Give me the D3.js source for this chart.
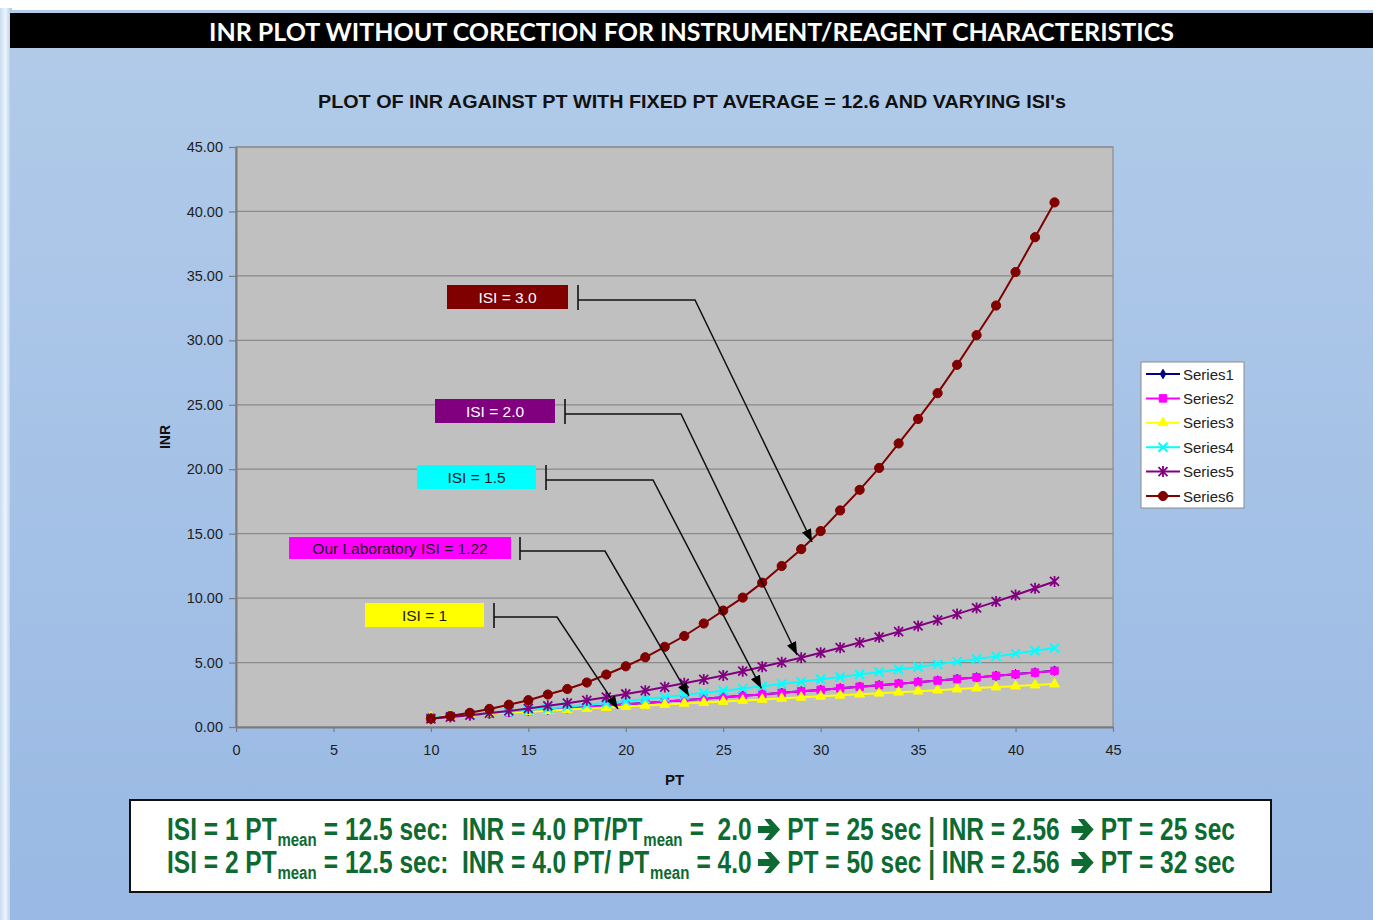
<!DOCTYPE html>
<html>
<head>
<meta charset="utf-8">
<script src="https://cdn.jsdelivr.net/npm/d3@7"></script>
<style>
  html, body { margin: 0; padding: 0; background: #ffffff; }
  svg { display: block; }
</style>
</head>
<body>
<svg id="chart" width="1375" height="920"></svg>
<script>
// ---- data -------------------------------------------------------------
const ptValues = [10, 11, 12, 13, 14, 15, 16, 17, 18, 19, 20, 21, 22, 23, 24, 25, 26,
                  27, 28, 29, 30, 31, 32, 33, 34, 35, 36, 37, 38, 39, 40, 41, 42];

const series1 = [0.75, 0.85, 0.94, 1.04, 1.14, 1.24, 1.34, 1.44, 1.55, 1.65, 1.76, 1.87, 1.97, 2.08, 2.20, 2.31, 2.42,
                 2.53, 2.65, 2.77, 2.88, 3.00, 3.12, 3.24, 3.36, 3.48, 3.60, 3.72, 3.85, 3.97, 4.10, 4.23, 4.37];
const series2 = [0.75, 0.85, 0.94, 1.04, 1.14, 1.24, 1.34, 1.44, 1.55, 1.65, 1.76, 1.87, 1.97, 2.08, 2.20, 2.31, 2.42,
                 2.53, 2.65, 2.77, 2.88, 3.00, 3.12, 3.24, 3.36, 3.48, 3.60, 3.72, 3.85, 3.97, 4.09, 4.22, 4.35];
const series3 = [0.79, 0.87, 0.95, 1.03, 1.11, 1.19, 1.27, 1.35, 1.43, 1.51, 1.59, 1.67, 1.75, 1.83, 1.90, 1.98, 2.06,
                 2.14, 2.22, 2.30, 2.38, 2.46, 2.54, 2.62, 2.70, 2.78, 2.86, 2.94, 3.02, 3.10, 3.17, 3.25, 3.33];
const series4 = [0.71, 0.82, 0.94, 1.05, 1.18, 1.31, 1.44, 1.58, 1.72, 1.86, 2.01, 2.17, 2.32, 2.48, 2.65, 2.81, 2.98,
                 3.16, 3.33, 3.51, 3.70, 3.88, 4.07, 4.27, 4.46, 4.66, 4.86, 5.07, 5.27, 5.48, 5.69, 5.91, 6.13];
const series5 = [0.64, 0.77, 0.92, 1.08, 1.25, 1.44, 1.64, 1.85, 2.07, 2.31, 2.56, 2.82, 3.10, 3.39, 3.69, 4.00, 4.33,
                 4.67, 5.02, 5.38, 5.76, 6.15, 6.55, 6.97, 7.40, 7.84, 8.29, 8.76, 9.24, 9.73, 10.24, 10.76, 11.29];
const series6 = [0.65, 0.85, 1.10, 1.40, 1.73, 2.08, 2.52, 2.95, 3.45, 4.07, 4.71, 5.41, 6.22, 7.06, 8.03, 9.03, 10.04,
                 11.20, 12.49, 13.80, 15.20, 16.80, 18.40, 20.10, 22.00, 23.90, 25.90, 28.10, 30.40, 32.70, 35.30, 38.00, 40.70];

const seriesNames = ["Series1", "Series2", "Series3", "Series4", "Series5", "Series6"];
const xTicks = [0, 5, 10, 15, 20, 25, 30, 35, 40, 45];
const yTicks = [0, 5, 10, 15, 20, 25, 30, 35, 40, 45];

// callout labels and the (PT, INR) point each arrow points at
const calloutTexts = ["ISI = 3.0", "ISI = 2.0", "ISI = 1.5", "Our Laboratory ISI = 1.22", "ISI = 1"];
const calloutTargetPT = [29.56, 28.79, 26.96, 23.24, 19.60];
const calloutTargetINR = [14.35, 5.59, 2.99, 2.41, 1.40];

// ---- styles -----------------------------------------------------------
const seriesColors = ["#000080", "#ff00ff", "#ffff00", "#00ffff", "#800080", "#800000"];
const seriesMarkers = ["diamond", "square", "triangle", "cross", "star", "circle"];
const allSeries = [series1, series2, series3, series4, series5, series6];

const SANS = '"Liberation Sans", Arial, "Helvetica Neue", sans-serif';

const svg = d3.select("#chart");
const defs = svg.append("defs");

const panelGrad = defs.append("linearGradient").attr("id", "panelFill")
  .attr("x1", 0).attr("y1", 0).attr("x2", 0).attr("y2", 1);
panelGrad.append("stop").attr("offset", 0).attr("stop-color", "#b2cbe9");
panelGrad.append("stop").attr("offset", 1).attr("stop-color", "#99b9e4");

const bevelGrad = defs.append("linearGradient").attr("id", "bevelFill")
  .attr("x1", 0).attr("y1", 0).attr("x2", 1).attr("y2", 0);
bevelGrad.append("stop").attr("offset", 0).attr("stop-color", "#c9dcf2");
bevelGrad.append("stop").attr("offset", 0.45).attr("stop-color", "#eef5fc");
bevelGrad.append("stop").attr("offset", 1).attr("stop-color", "#a9c4e8");

defs.append("marker").attr("id", "arrowHead")
  .attr("markerUnits", "userSpaceOnUse")
  .attr("markerWidth", 14).attr("markerHeight", 10)
  .attr("refX", 13).attr("refY", 5)
  .attr("orient", "auto")
  .append("path").attr("d", "M0,0 L13,5 L0,10 Z").attr("fill", "#000");

// ---- page background --------------------------------------------------
svg.append("rect").attr("x", 0).attr("y", 0).attr("width", 1375).attr("height", 920).attr("fill", "#ffffff");
svg.append("rect").attr("x", 0).attr("y", 8).attr("width", 12).attr("height", 912).attr("fill", "url(#bevelFill)");
svg.append("rect").attr("x", 10).attr("y", 10).attr("width", 1363).attr("height", 910).attr("fill", "url(#panelFill)");

// title bar
svg.append("rect").attr("x", 10).attr("y", 13).attr("width", 1363).attr("height", 35).attr("fill", "#000");
svg.append("text")
  .attr("x", 209).attr("y", 41)
  .attr("textLength", 965).attr("lengthAdjust", "spacingAndGlyphs")
  .attr("font-family", 'Lato, "Open Sans", "Liberation Sans", sans-serif')
  .attr("font-weight", "bold").attr("font-size", 24).attr("fill", "#fff")
  .text("INR PLOT WITHOUT CORECTION FOR INSTRUMENT/REAGENT CHARACTERISTICS");

// chart subtitle
svg.append("text")
  .attr("x", 318).attr("y", 108)
  .attr("textLength", 748).attr("lengthAdjust", "spacingAndGlyphs")
  .attr("font-family", SANS).attr("font-weight", "bold").attr("font-size", 18).attr("fill", "#111")
  .text("PLOT OF INR AGAINST PT WITH FIXED PT AVERAGE = 12.6 AND VARYING ISI's");

// ---- scales -----------------------------------------------------------
const x = d3.scaleLinear().domain([0, 45]).range([236, 1113]);
const y = d3.scaleLinear().domain([0, 45]).range([727, 147]);

// plot area
svg.append("rect")
  .attr("x", x(0)).attr("y", y(45))
  .attr("width", x(45) - x(0)).attr("height", y(0) - y(45))
  .attr("fill", "#c0c0c0").attr("stroke", "#8a8a8a").attr("stroke-width", 1.2);

svg.append("g").selectAll("line").data(yTicks.filter(d => d > 0)).join("line")
  .attr("x1", x(0)).attr("x2", x(45))
  .attr("y1", d => y(d)).attr("y2", d => y(d))
  .attr("stroke", "#8a8a8a").attr("stroke-width", 1.2);

// axes
const styleAxis = g => {
  g.attr("font-family", SANS);
  g.select(".domain").attr("stroke", "#7c7c7c").attr("stroke-width", 2);
  g.selectAll(".tick line").attr("stroke", "#7c7c7c").attr("stroke-width", 1.2);
  g.selectAll(".tick text").attr("font-size", 14.5).attr("fill", "#1e1e1e");
};

svg.append("g")
  .attr("transform", `translate(${x(0)},0)`)
  .call(d3.axisLeft(y).tickValues(yTicks).tickFormat(d3.format(".2f")).tickSize(7).tickSizeOuter(0).tickPadding(6))
  .call(styleAxis);

svg.append("g")
  .attr("transform", `translate(0,${y(0)})`)
  .call(d3.axisBottom(x).tickValues(xTicks).tickFormat(d3.format("d")).tickSize(5).tickSizeOuter(0).tickPadding(13))
  .call(styleAxis);

svg.append("text")
  .attr("transform", `translate(170,${(y(0) + y(45)) / 2}) rotate(-90)`)
  .attr("text-anchor", "middle")
  .attr("font-family", SANS).attr("font-weight", "bold").attr("font-size", 14).attr("fill", "#111")
  .text("INR");

svg.append("text")
  .attr("x", (x(0) + x(45)) / 2).attr("y", 785)
  .attr("text-anchor", "middle")
  .attr("font-family", SANS).attr("font-weight", "bold").attr("font-size", 15).attr("fill", "#111")
  .text("PT");

// ---- markers ----------------------------------------------------------
function drawMarker(g, kind, color) {
  switch (kind) {
    case "diamond":
      g.append("path").attr("d", d3.symbol(d3.symbolDiamond, 26)()).attr("fill", color).attr("stroke", color);
      break;
    case "square":
      g.append("path").attr("d", d3.symbol(d3.symbolSquare, 56)()).attr("fill", color).attr("stroke", color);
      break;
    case "triangle":
      g.append("path").attr("d", d3.symbol(d3.symbolTriangle, 42)()).attr("fill", color).attr("stroke", color);
      break;
    case "cross":
      g.append("path").attr("d", "M-4.5,-4.5L4.5,4.5M-4.5,4.5L4.5,-4.5")
        .attr("stroke", color).attr("stroke-width", 2).attr("fill", "none");
      break;
    case "star":
      g.append("path").attr("d", "M-4.5,-4.5L4.5,4.5M-4.5,4.5L4.5,-4.5M0,-5.5L0,5.5")
        .attr("stroke", color).attr("stroke-width", 1.8).attr("fill", "none");
      break;
    case "circle":
      g.append("circle").attr("r", 4.6).attr("fill", color).attr("stroke", color);
      break;
  }
}

// ---- series -----------------------------------------------------------
const line = d3.line().x((d, i) => x(ptValues[i])).y(d => y(d));

allSeries.forEach((values, s) => {
  const g = svg.append("g");
  g.append("path").attr("d", line(values))
    .attr("fill", "none").attr("stroke", seriesColors[s]).attr("stroke-width", 2);
  values.forEach((v, i) => {
    const m = g.append("g").attr("transform", `translate(${x(ptValues[i])},${y(v)})`);
    drawMarker(m, seriesMarkers[s], seriesColors[s]);
  });
});

// ---- callouts ---------------------------------------------------------
const calloutBoxes = [
  { x0: 447, x1: 568, y0: 285, y1: 309, tickX: 578, lineY: 300, elbowX: 695, fill: "#800000", ink: "#ffffff" },
  { x0: 435, x1: 555, y0: 399, y1: 423, tickX: 565, lineY: 414, elbowX: 681, fill: "#800080", ink: "#ffffff" },
  { x0: 417, x1: 536, y0: 465, y1: 489, tickX: 546, lineY: 480, elbowX: 653, fill: "#00ffff", ink: "#1a1a1a" },
  { x0: 289, x1: 511, y0: 537, y1: 559, tickX: 520, lineY: 551, elbowX: 605, fill: "#ff00ff", ink: "#1a1a1a" },
  { x0: 365, x1: 484, y0: 603, y1: 627, tickX: 494, lineY: 617, elbowX: 557, fill: "#ffff00", ink: "#1a1a1a" }
];

calloutTexts.forEach((label, i) => {
  const b = calloutBoxes[i];
  const g = svg.append("g");
  g.append("rect").attr("x", b.x0).attr("y", b.y0)
    .attr("width", b.x1 - b.x0).attr("height", b.y1 - b.y0).attr("fill", b.fill);
  g.append("text")
    .attr("x", (b.x0 + b.x1) / 2).attr("y", (b.y0 + b.y1) / 2 + 5.5)
    .attr("text-anchor", "middle")
    .attr("font-family", SANS).attr("font-size", 15.5).attr("fill", b.ink)
    .text(label);
  g.append("line").attr("x1", b.tickX).attr("x2", b.tickX)
    .attr("y1", b.y0).attr("y2", b.y1 + 1)
    .attr("stroke", "#111").attr("stroke-width", 1.6);
  const tipX = x(calloutTargetPT[i]);
  const tipY = y(calloutTargetINR[i]);
  g.append("path")
    .attr("d", `M${b.tickX},${b.lineY}L${b.elbowX},${b.lineY}L${tipX},${tipY}`)
    .attr("fill", "none").attr("stroke", "#111").attr("stroke-width", 1.5)
    .attr("marker-end", "url(#arrowHead)");
});

// ---- legend -----------------------------------------------------------
const legend = svg.append("g");
legend.append("rect").attr("x", 1141).attr("y", 362).attr("width", 103).attr("height", 146)
  .attr("fill", "#ffffff").attr("stroke", "#8c8c8c").attr("stroke-width", 1);
seriesNames.forEach((name, s) => {
  const ly = 374 + s * 24.4;
  legend.append("line").attr("x1", 1146).attr("x2", 1180).attr("y1", ly).attr("y2", ly)
    .attr("stroke", seriesColors[s]).attr("stroke-width", 2);
  const m = legend.append("g").attr("transform", `translate(1163,${ly})`);
  drawMarker(m, seriesMarkers[s], seriesColors[s]);
  legend.append("text").attr("x", 1183).attr("y", ly + 5.5)
    .attr("font-family", SANS).attr("font-size", 15).attr("fill", "#222")
    .text(name);
});

// ---- worked-example box -----------------------------------------------
svg.append("rect").attr("x", 130).attr("y", 800).attr("width", 1141).attr("height", 92)
  .attr("fill", "#ffffff").attr("stroke", "#111").attr("stroke-width", 2);

const GREEN = "#0d6a30";
const exampleLines = [
  { baseline: 840, parts: [
    ["ISI = 1 PT"], ["mean", "sub"], ["= 12.5 sec:  INR = 4.0 PT/PT"], ["mean", "sub"],
    ["=  2.0"], ["", "arrow", 8], ["PT = 25 sec | INR = 2.56"], ["", "arrow", 15], ["PT = 25 sec"] ] },
  { baseline: 873, parts: [
    ["ISI = 2 PT"], ["mean", "sub"], ["= 12.5 sec:  INR = 4.0 PT/ PT"], ["mean", "sub"],
    ["= 4.0"], ["", "arrow", 8], ["PT = 50 sec | INR = 2.56"], ["", "arrow", 15], ["PT = 32 sec"] ] }
];

// heavy right arrow used between the statements
const bigArrow = "M0,-3.4 L15,-3.4 L8,-10.5 L16,-10.5 L28,0 L16,10.5 L8,10.5 L15,3.4 L0,3.4 Z";

exampleLines.forEach(ln => {
  const g = svg.append("g");
  let cx = 0;
  let prev = null;
  ln.parts.forEach(([txt, kind, gap]) => {
    if (kind === "arrow") {
      cx += gap;
      g.append("path").attr("d", bigArrow)
        .attr("transform", `translate(${cx},-10.5)`)
        .attr("fill", GREEN);
      cx += 28 + 9;
    } else {
      const sub = kind === "sub";
      const lead = (!sub && prev === "sub") ? 9 : (sub ? 1 : 0);
      cx += lead;
      const t = g.append("text")
        .attr("x", cx).attr("y", sub ? 6 : 0)
        .style("white-space", "pre")
        .attr("font-family", SANS).attr("font-weight", "bold")
        .attr("font-size", sub ? 19 : 31)
        .attr("fill", GREEN)
        .text(txt);
      cx += t.node().getComputedTextLength();
    }
    prev = kind || "text";
  });
  const sx = 1068 / cx;
  g.attr("transform", `translate(167,${ln.baseline}) scale(${sx},1)`);
});
</script>
</body>
</html>
